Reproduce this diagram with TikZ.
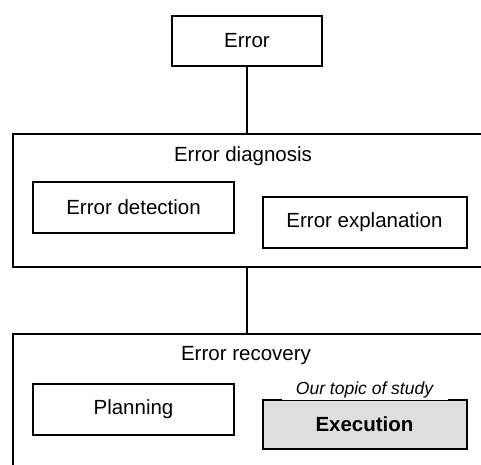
\documentclass[tikz,border=0pt]{standalone}
\usepackage{fontspec}
\setmainfont{Liberation Sans}

\tikzstyle{stage-box}=[draw, line width=2pt, anchor=north west]
\tikzstyle{task-box}=[draw, line width=2pt, minimum width=204, minimum height=51, font=\fontsize{20.5}{24}\selectfont]
\tikzstyle{stage-title}=[font=\fontsize{20.5}{24}\selectfont]
\definecolor{TopicGray}{HTML}{dedede}

\begin{document}
\begin{tikzpicture}[x=1pt, y=-1pt]
      \clip (0,0) rectangle (481,464);

      \node (error) at (247, 41)
            [draw, line width=2pt, minimum width=150, minimum height=50, font=\fontsize{20.5}{24}\selectfont] {Error};

      \node (diagnosis) at (12, 133)
            [stage-box, minimum width=500, minimum height=133] {};
      \node (diagnosis:title) at (243, 156) [stage-title] {Error diagnosis};
      \node (detection) at (133.5, 207) [task-box, minimum width=201] {Error detection};
      \node (explanation) at (364.5, 222.5) [task-box] {Error explanation};

      \node (recovery) at (12, 333)
            [stage-box, minimum width=500, minimum height=200] {};
      \node (recovery:title) at (246, 356) [stage-title] {Error recovery};
      \node (planning) at (133.5, 409.5) [task-box, minimum width=201] {Planning};
      \node (execution) at (364.5, 424.5)
            [task-box, fill={TopicGray}, minimum height=49, font=\fontsize{20.5}{24}\selectfont\bfseries] {Execution};
      \node (topic) at (execution.north)
            [anchor=south, yshift=-1.2pt, fill=white, minimum width=166, inner ysep=1.5pt,
             text height=13pt, text depth=4pt, font=\fontsize{17.5}{20}\selectfont\itshape] {Our topic of study};

      \draw[line width=2pt] (error) -- (error |- diagnosis.north);
      \draw[line width=2pt] (error |- diagnosis.south) -- (error |- recovery.north);
\end{tikzpicture}
\end{document}
